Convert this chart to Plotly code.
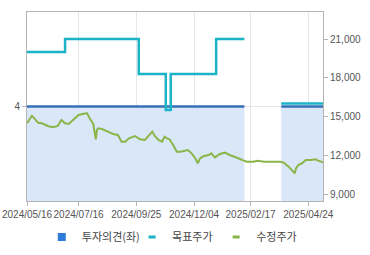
import pandas as pd
import plotly.graph_objects as go
from plotly.subplots import make_subplots

# KRX holidays in the period (market closed)
holidays = ["2024-06-06", "2024-08-15", "2024-09-16", "2024-09-17", "2024-09-18",
            "2024-10-01", "2024-10-03", "2024-10-09", "2024-12-25", "2024-12-31",
            "2025-01-01", "2025-01-27", "2025-01-28", "2025-01-29", "2025-01-30",
            "2025-03-03", "2025-05-01", "2025-05-05", "2025-05-06"]
trading_days = [d.strftime("%Y-%m-%d") for d in
                pd.bdate_range("2024-05-16", "2025-05-15", freq="C", holidays=holidays)]

tick_dates = ["2024-05-16", "2024-07-16", "2024-09-25", "2024-12-04", "2025-02-17", "2025-04-24"]
tick_labels = ["2024/05/16", "2024/07/16", "2024/09/25", "2024/12/04", "2025/02/17", "2025/04/24"]

# 수정주가 (adjusted price)
price_dates = ["2024-05-16", "2024-05-22", "2024-05-24", "2024-05-29", "2024-06-03", "2024-06-07",
               "2024-06-11", "2024-06-17", "2024-06-21", "2024-06-26", "2024-07-01", "2024-07-04",
               "2024-07-08", "2024-07-11", "2024-07-16", "2024-07-19", "2024-07-25", "2024-07-29",
               "2024-08-01", "2024-08-05", "2024-08-06", "2024-08-07", "2024-08-12", "2024-08-20",
               "2024-08-26", "2024-08-30", "2024-09-04", "2024-09-09", "2024-09-12", "2024-09-24",
               "2024-09-30", "2024-10-08", "2024-10-15", "2024-10-17", "2024-10-21", "2024-10-24",
               "2024-10-29", "2024-10-31", "2024-11-04", "2024-11-06", "2024-11-11", "2024-11-14",
               "2024-11-19", "2024-11-25", "2024-11-27", "2024-12-02", "2024-12-05", "2024-12-09",
               "2024-12-11", "2024-12-16", "2024-12-20", "2024-12-24", "2024-12-30", "2025-01-07",
               "2025-01-13", "2025-01-17", "2025-01-23", "2025-02-03", "2025-02-07", "2025-02-12",
               "2025-02-19", "2025-02-25", "2025-03-05", "2025-03-12", "2025-03-24", "2025-03-27",
               "2025-04-02", "2025-04-07", "2025-04-09", "2025-04-10", "2025-04-14", "2025-04-17",
               "2025-04-22", "2025-04-28", "2025-05-07", "2025-05-09", "2025-05-15"]
price_values = [14480, 15060, 14860, 14520, 14480, 14340,
                14270, 14170, 14270, 14730, 14480, 14420,
                14600, 14790, 15120, 15200, 15250, 14860,
                14420, 13240, 13960, 14090, 14030, 13830,
                13650, 13570, 13050, 13050, 13310, 13490,
                13240, 13180, 13650, 13830, 13490, 13180,
                13050, 13440, 13310, 13240, 12800, 12280,
                12280, 12350, 12410, 12150, 11770, 11380,
                11770, 11940, 12020, 12150, 11840, 12100,
                12200, 12020, 11890, 11770, 11600, 11500,
                11500, 11580, 11500, 11500, 11500, 11430,
                11120, 10810, 10600, 10990, 11250, 11380,
                11630, 11630, 11690, 11580, 11460]

# 목표주가 (target price), step changes; None = no coverage
target_dates = ["2024-05-16", "2024-07-01", "2024-09-27", "2024-11-01", "2024-11-07",
                "2025-01-02", "2025-02-10", "2025-02-11", "2025-03-25", "2025-05-15"]
target_values = [20000, 21000, 18300, 15500, 18300,
                 21000, 21000, None, 16000, 16000]

# 투자의견 (investment opinion, left axis), two coverage periods
opinion1_dates = ["2024-05-16", "2025-02-10"]
opinion1_values = [4, 4]
opinion2_dates = ["2025-03-25", "2025-05-15"]
opinion2_values = [4, 4]

legend_names = ["투자의견(좌)", "목표주가", "수정주가"]

C_FILL = "#dae7f8"
C_OPN = "#356fb8"
C_OPN_LEG = "#2f7bd9"
C_TGT = "#1bb3c6"
C_PRC = "#8ab548"

fig = make_subplots(specs=[[{"secondary_y": True}]])

for xs, ys in [(opinion1_dates, opinion1_values), (opinion2_dates, opinion2_values)]:
    fig.add_trace(go.Scatter(x=xs, y=ys, mode="lines", fill="tozeroy", fillcolor=C_FILL,
                             line=dict(color=C_OPN, width=2.5), showlegend=False,
                             hoverinfo="skip"), secondary_y=False)

fig.add_trace(go.Scatter(x=target_dates, y=target_values, mode="lines",
                         line=dict(color=C_TGT, width=2.5, shape="hv"),
                         connectgaps=False, showlegend=False), secondary_y=True)
fig.add_trace(go.Scatter(x=price_dates, y=price_values, mode="lines",
                         line=dict(color=C_PRC, width=2), showlegend=False), secondary_y=True)

# legend entries (one legend per entry so spacing can follow the reference)
fig.add_trace(go.Scatter(x=[None], y=[None], mode="markers", name=legend_names[0],
                         legend="legend",
                         marker=dict(symbol="square", size=8, color=C_OPN_LEG)), secondary_y=False)
fig.add_trace(go.Scatter(x=[None], y=[None], mode="markers", name=legend_names[1],
                         legend="legend2",
                         marker=dict(symbol="line-ew", size=5,
                                     line=dict(color=C_TGT, width=3))), secondary_y=True)
fig.add_trace(go.Scatter(x=[None], y=[None], mode="markers", name=legend_names[2],
                         legend="legend3",
                         marker=dict(symbol="line-ew", size=5,
                                     line=dict(color=C_PRC, width=3))), secondary_y=True)

tickfont = dict(family="Liberation Sans, Arial, sans-serif", size=10, color="#555555")

fig.update_xaxes(type="category", categoryorder="array", categoryarray=trading_days,
                 range=[0, len(trading_days) - 1], automargin=False, tickangle=0,
                 domain=[0, 1],
                 tickvals=tick_dates, ticktext=tick_labels, tickfont=tickfont,
                 showgrid=True, gridcolor="#e3e6ea", gridwidth=1,
                 showline=True, linecolor="#b4b4b4", linewidth=1, mirror=True,
                 ticks="outside", ticklen=4, tickcolor="#b4b4b4", zeroline=False)
fig.update_yaxes(range=[0, 8], tickvals=[4], ticktext=["4"], tickfont=tickfont,
                 automargin=False,
                 showgrid=True, gridcolor="#e6e6e6", zeroline=False,
                 showline=True, linecolor="#b4b4b4", linewidth=1, mirror=True,
                 ticks="outside", ticklen=4, tickcolor="#b4b4b4", secondary_y=False)
fig.update_yaxes(range=[8460, 23090], tickvals=[9000, 12000, 15000, 18000, 21000],
                 tickformat=",d", tickfont=tickfont, showgrid=False, zeroline=False,
                 automargin=False,
                 ticks="outside", ticklen=4, tickcolor="#b4b4b4", secondary_y=True)

legfont = dict(family="Noto Sans CJK KR, sans-serif", size=11, color="#444444")
leg_common = dict(orientation="h", y=-0.19, yanchor="middle", xanchor="left",
                  font=legfont, itemwidth=30, bgcolor="rgba(0,0,0,0)", borderwidth=0)

fig.update_layout(
    width=370, height=255,
    margin=dict(l=27, r=47, t=12, b=54, autoexpand=False),
    paper_bgcolor="white", plot_bgcolor="white",
    showlegend=True,
    legend=dict(x=0.05, **leg_common),
    legend2=dict(x=0.355, **leg_common),
    legend3=dict(x=0.639, **leg_common),
    hovermode=False,
)

fig.write_html("out.html", config={"displayModeBar": False},
               post_script="document.body.style.margin='0';")
